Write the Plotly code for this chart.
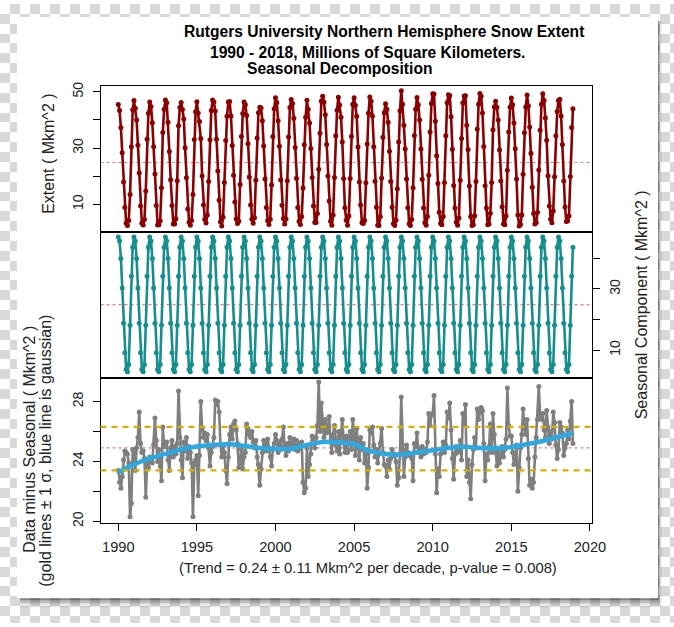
import plotly.graph_objects as go

REF_W, H = 674, 627   # reference picture size (all layout positions are in these pixels)
FIG_W = 689           # page is rendered 15 px wider than the shot and then fitted to 674

# ---------------- data ----------------
years = list(range(1990, 2019))
month_index = list(range(12))

# seasonal component (monthly climatology, Mkm^2), Jan..Dec
seasonal_cycle = [47.0, 45.7, 40.0, 30.3, 18.8, 9.1, 3.6, 2.9, 5.3, 18.1, 34.2, 43.7]

# monthly extent (Mkm^2), one row per year 1990..2018, Jan..Dec
extent_monthly = [
    [45.5, 43.4, 37.3, 28.4, 18.0, 8.9, 3.3, 2.5, 4.3, 13.5, 30.5, 43.6],  # 1990
    [46.9, 44.2, 40.0, 31.0, 21.2, 9.4, 3.3, 2.7, 4.6, 14.8, 33.2, 42.4],  # 1991
    [46.4, 44.8, 39.0, 30.5, 20.8, 9.6, 2.7, 2.8, 4.1, 15.9, 35.6, 43.8],  # 1992
    [47.1, 46.1, 39.2, 28.8, 18.8, 9.6, 3.0, 3.0, 4.9, 18.4, 38.0, 44.4],  # 1993
    [46.2, 43.7, 40.4, 30.1, 19.5, 8.4, 3.7, 2.6, 4.3, 13.5, 33.1, 42.9],  # 1994
    [46.5, 42.5, 39.5, 33.4, 20.1, 9.8, 4.6, 3.4, 6.2, 18.1, 33.0, 43.4],  # 1995
    [47.1, 46.4, 43.2, 33.2, 21.9, 11.5, 3.8, 2.3, 5.4, 17.8, 32.7, 41.3],  # 1996
    [46.4, 46.6, 41.4, 30.9, 20.4, 10.9, 4.8, 3.2, 4.0, 17.1, 34.1, 42.3],  # 1997
    [46.4, 45.4, 41.6, 31.6, 19.7, 9.8, 4.7, 3.3, 5.3, 18.6, 33.6, 42.6],  # 1998
    [44.5, 44.3, 39.7, 30.8, 19.0, 8.9, 4.2, 2.9, 4.7, 16.9, 34.1, 44.0],  # 1999
    [47.9, 46.2, 39.7, 30.7, 18.7, 9.7, 5.0, 3.0, 4.8, 18.4, 34.0, 44.4],  # 2000
    [47.3, 45.9, 40.6, 30.2, 19.3, 8.9, 3.9, 2.9, 5.7, 15.8, 31.2, 41.0],  # 2001
    [47.0, 43.8, 38.9, 29.9, 19.6, 9.4, 3.6, 3.6, 6.8, 22.5, 35.3, 46.7],  # 2002
    [48.4, 46.4, 41.9, 31.3, 20.1, 11.2, 4.0, 2.6, 6.2, 19.6, 34.4, 43.5],  # 2003
    [48.1, 45.3, 41.0, 32.2, 19.2, 8.8, 4.4, 2.6, 5.9, 19.2, 34.1, 45.6],  # 2004
    [47.9, 45.2, 41.3, 30.4, 18.0, 9.8, 3.5, 3.2, 4.3, 17.7, 31.5, 42.4],  # 2005
    [48.2, 46.7, 41.4, 30.5, 18.2, 9.0, 2.6, 2.5, 5.6, 19.4, 33.9, 42.6],  # 2006
    [45.8, 43.8, 39.2, 28.9, 18.1, 9.0, 3.1, 2.5, 4.4, 15.6, 32.2, 43.3],  # 2007
    [50.4, 45.6, 38.1, 29.7, 19.0, 8.8, 3.1, 2.5, 4.6, 15.9, 34.5, 43.8],  # 2008
    [48.0, 45.4, 40.0, 29.7, 18.9, 8.7, 3.5, 2.6, 5.7, 20.4, 35.7, 45.9],  # 2009
    [49.3, 49.2, 39.6, 27.3, 17.4, 7.2, 3.2, 2.8, 5.7, 17.8, 34.4, 46.1],  # 2010
    [49.0, 48.7, 41.2, 29.6, 16.7, 8.7, 3.7, 2.6, 5.2, 18.6, 33.4, 46.0],  # 2011
    [48.5, 48.6, 38.1, 29.5, 16.5, 5.7, 2.5, 2.8, 6.0, 18.1, 36.8, 45.6],  # 2012
    [49.4, 48.4, 42.5, 30.6, 16.6, 8.7, 2.8, 3.0, 6.9, 17.8, 36.5, 44.6],  # 2013
    [46.7, 44.5, 40.0, 29.3, 18.3, 9.2, 3.0, 2.8, 5.9, 22.1, 35.7, 44.5],  # 2014
    [47.8, 45.4, 38.9, 29.8, 19.0, 6.2, 2.3, 2.9, 6.2, 20.7, 35.5, 44.6],  # 2015
    [48.9, 45.0, 37.5, 28.2, 16.1, 6.8, 3.0, 3.6, 7.2, 22.2, 36.4, 45.6],  # 2016
    [49.3, 46.9, 40.7, 32.8, 20.2, 9.4, 4.7, 3.5, 7.7, 19.8, 34.4, 43.0],  # 2017
    [46.9, 47.4, 41.4, 31.3, 18.3, 9.1, 3.9, 4.1, 5.9, 19.9, 37.3, 44.0],  # 2018
]

# data minus seasonal (Mkm^2), one row per year, Jan..Dec
residual_monthly = [
    [23.4, 22.6, 22.2, 23.0, 24.1, 24.7, 24.6, 24.5, 23.9, 20.3, 21.2, 24.8],  # 1990
    [24.8, 23.4, 24.9, 25.6, 27.3, 25.2, 24.6, 24.7, 24.2, 21.6, 23.9, 23.6],  # 1991
    [24.3, 24.0, 23.9, 25.1, 26.9, 25.4, 24.0, 24.8, 23.7, 22.7, 26.3, 25.0],  # 1992
    [25.0, 25.3, 24.1, 23.4, 24.9, 25.4, 24.3, 25.0, 24.5, 25.2, 28.7, 25.6],  # 1993
    [24.1, 22.9, 25.3, 24.7, 25.6, 24.2, 25.0, 24.6, 23.9, 20.3, 23.8, 24.1],  # 1994
    [24.4, 21.7, 24.4, 28.0, 26.2, 25.6, 25.9, 25.4, 25.8, 24.9, 23.7, 24.6],  # 1995
    [25.0, 25.6, 28.1, 27.8, 28.0, 27.3, 25.1, 24.3, 25.0, 24.6, 23.4, 22.5],  # 1996
    [24.3, 25.8, 26.3, 25.5, 26.5, 26.7, 26.1, 25.2, 23.6, 23.9, 24.8, 23.5],  # 1997
    [24.3, 24.6, 26.5, 26.2, 25.8, 25.6, 26.0, 25.3, 24.9, 25.4, 24.3, 23.8],  # 1998
    [22.4, 23.5, 24.6, 25.4, 25.1, 24.7, 25.5, 24.9, 24.3, 23.7, 24.8, 25.2],  # 1999
    [25.8, 25.4, 24.6, 25.3, 24.8, 25.5, 26.3, 25.0, 24.4, 25.2, 24.7, 25.6],  # 2000
    [25.2, 25.1, 25.5, 24.8, 25.4, 24.7, 25.2, 24.9, 25.3, 22.6, 21.9, 22.2],  # 2001
    [24.9, 23.0, 23.8, 24.5, 25.7, 25.2, 24.9, 25.6, 26.4, 29.3, 26.0, 27.9],  # 2002
    [26.3, 25.6, 26.8, 25.9, 26.2, 27.0, 25.3, 24.6, 25.8, 26.4, 25.1, 24.7],  # 2003
    [26.0, 24.5, 25.9, 26.8, 25.3, 24.6, 25.7, 24.6, 25.5, 26.0, 24.8, 26.8],  # 2004
    [25.8, 24.4, 26.2, 25.0, 24.1, 25.6, 24.8, 25.2, 23.9, 24.5, 22.2, 23.6],  # 2005
    [26.1, 25.9, 26.3, 25.1, 24.3, 24.8, 23.9, 24.5, 25.2, 26.2, 24.6, 23.8],  # 2006
    [23.7, 23.0, 24.1, 23.5, 24.2, 24.8, 24.4, 24.5, 24.0, 22.4, 22.9, 24.5],  # 2007
    [28.3, 24.8, 23.0, 24.3, 25.1, 24.6, 24.4, 24.5, 24.2, 22.7, 25.2, 25.0],  # 2008
    [25.9, 24.6, 24.9, 24.3, 25.0, 24.5, 24.8, 24.6, 25.3, 27.2, 26.4, 27.1],  # 2009
    [27.2, 28.4, 24.5, 21.9, 23.5, 23.0, 24.5, 24.8, 25.3, 24.6, 25.1, 27.3],  # 2010
    [26.9, 27.9, 26.1, 24.2, 22.8, 24.5, 25.0, 24.6, 24.8, 25.4, 24.1, 27.2],  # 2011
    [26.4, 27.8, 23.0, 24.1, 22.6, 21.5, 23.8, 24.8, 25.6, 24.9, 27.5, 26.8],  # 2012
    [27.3, 27.6, 27.4, 25.2, 22.7, 24.5, 24.1, 25.0, 26.5, 24.6, 27.2, 25.8],  # 2013
    [24.6, 23.7, 24.9, 23.9, 24.4, 25.0, 24.3, 24.8, 25.5, 28.9, 26.4, 25.7],  # 2014
    [25.7, 24.6, 23.8, 24.4, 25.1, 22.0, 23.6, 24.9, 25.8, 27.5, 26.2, 25.8],  # 2015
    [26.8, 24.2, 22.4, 22.8, 22.2, 22.6, 24.3, 25.6, 26.8, 29.0, 27.1, 26.8],  # 2016
    [27.2, 26.1, 25.6, 27.4, 26.3, 25.2, 26.0, 25.5, 27.3, 26.6, 25.1, 24.2],  # 2017
    [24.8, 26.6, 26.3, 25.9, 24.4, 24.9, 25.2, 26.1, 25.5, 26.7, 28.0, 25.2],  # 2018
]

# gaussian smooth of the residual (read at yearly points)
gauss_t = [1990, 1991, 1992, 1993, 1994, 1995, 1996, 1997, 1998, 1999, 2000,
           2001, 2002, 2003, 2004, 2005, 2006, 2007, 2008, 2009, 2010, 2011,
           2012, 2013, 2014, 2015, 2016, 2017, 2018, 2018.92]
gauss_vals = [23.25, 23.8, 24.2, 24.5, 24.8, 25.0, 25.1, 25.15, 25.05, 24.9, 24.85,
              24.85, 25.1, 25.3, 25.28, 25.15, 24.7, 24.5, 24.45, 24.6, 24.75, 24.9,
              24.98, 24.9, 24.88, 24.96, 25.15, 25.36, 25.65, 25.9]

mean_level = 24.9
sigma_upper = 26.3
sigma_lower = 23.4

x_ticks = [1990, 1995, 2000, 2005, 2010, 2015, 2020]
top_ticks = [10, 20, 30, 40, 50]
top_labels = ["10", "", "30", "", "50"]
mid_ticks = [10, 20, 30, 40]
mid_labels = ["10", "", "30", ""]
bot_ticks = [20, 22, 24, 26, 28]
bot_labels = ["20", "", "24", "", "28"]

title_lines = ["Rutgers University Northern Hemisphere Snow Extent",
               "1990 - 2018, Millions of Square Kilometers.",
               "Seasonal Decomposition"]
trend_text = "(Trend = 0.24 \u00b1 0.11 Mkm^2 per decade, p-value = 0.008)"

# ---------------- series ----------------
t = [y + m / 12 for y in years for m in month_index]
extent = [v for row in extent_monthly for v in row]
seasonal = [seasonal_cycle[m] for y in years for m in month_index]
resid = [v for row in residual_monthly for v in row]

FONT = "Liberation Sans, Arial, Helvetica, sans-serif"
RED = "#8b0000"
TEAL = "#168e8e"
GREY = "#7f7f7f"
BLUE = "#2aa9e2"
GOLD = "#d4b000"
PINK = "#f07a7a"

def px_x(px):
    return px / REF_W

def px_y(py):
    return 1 - py / H

XD = [px_x(100.5), px_x(591.5)]
D1 = [px_y(230.5), px_y(83.3)]
D2 = [px_y(379.0), px_y(230.5)]
D3 = [px_y(525.5), px_y(379.0)]
XR = [1988.87, 2020.1]

fig = go.Figure()

# ---- checkerboard background around the card (drawn first) ----
CARD = (17, 13, 658, 602)
S = 10
xe = sorted(set(list(range(0, REF_W + 1, S)) + [REF_W, CARD[0], CARD[2]]))
ye = sorted(set(list(range(0, H + 1, S)) + [H, CARD[1], CARD[3]]))
z = []
for j in range(len(ye) - 1):
    cy = (ye[j] + ye[j + 1]) / 2
    row = []
    for i in range(len(xe) - 1):
        cx = (xe[i] + xe[i + 1]) / 2
        if CARD[0] < cx < CARD[2] and CARD[1] < cy < CARD[3]:
            row.append(None)
        else:
            row.append((int(cx // S) + int(cy // S)) % 2)
    z.append(row)
fig.add_trace(go.Heatmap(x=xe, y=ye, z=z, xaxis="x4", yaxis="y4", zmin=0, zmax=1,
                         colorscale=[[0, "#ffffff"], [1, "#d9d9d9"]],
                         showscale=False, hoverinfo="skip"))

fig.add_trace(go.Scatter(x=t, y=extent, mode="lines+markers", xaxis="x", yaxis="y",
                         line=dict(color=RED, width=2.6),
                         marker=dict(color=RED, size=5), hoverinfo="skip"))
fig.add_trace(go.Scatter(x=t, y=seasonal, mode="lines+markers", xaxis="x2", yaxis="y2",
                         line=dict(color=TEAL, width=2.6),
                         marker=dict(color=TEAL, size=5), hoverinfo="skip"))
fig.add_trace(go.Scatter(x=t, y=resid, mode="lines+markers", xaxis="x3", yaxis="y3",
                         line=dict(color=GREY, width=2.6),
                         marker=dict(color=GREY, size=5), hoverinfo="skip"))
fig.add_trace(go.Scatter(x=gauss_t, y=gauss_vals, mode="lines", xaxis="x3", yaxis="y3",
                         line=dict(color=BLUE, width=4.5, shape="spline"),
                         hoverinfo="skip"))

axis_common = dict(showline=True, mirror=True, linecolor="black", linewidth=1,
                   showgrid=False, zeroline=False)
tickfont = dict(family=FONT, size=14, color="#222222")
xtickfont = dict(family=FONT, size=14.6, color="#222222")

layout = dict(
    width=FIG_W, height=H, autosize=False, margin=dict(l=0, r=0, t=0, b=0),
    paper_bgcolor="white", plot_bgcolor="rgba(0,0,0,0)", showlegend=False,
    xaxis4=dict(domain=[0, 1], range=[0, REF_W], anchor="y4", visible=False, fixedrange=True),
    yaxis4=dict(domain=[0, 1], range=[H, 0], anchor="x4", visible=False, fixedrange=True),
    xaxis=dict(domain=XD, range=XR, anchor="y", showticklabels=False, ticks="", **axis_common),
    yaxis=dict(domain=D1, range=[0.35, 52.0], anchor="x", tickvals=top_ticks, ticktext=top_labels,
               tickangle=-90, ticks="outside", ticklen=7, tickcolor="black", tickfont=tickfont,
               ticklabelstandoff=4, **axis_common),
    xaxis2=dict(domain=XD, range=XR, anchor="y2", showticklabels=False, ticks="", **axis_common),
    yaxis2=dict(domain=D2, range=[0.8, 48.8], anchor="x2", side="right", tickvals=mid_ticks,
                ticktext=mid_labels, tickangle=-90, ticks="outside", ticklen=7, tickcolor="black",
                tickfont=tickfont, ticklabelstandoff=4, **axis_common),
    xaxis3=dict(domain=XD, range=XR, anchor="y3", tickvals=x_ticks, ticks="outside", ticklen=7,
                tickcolor="black", tickfont=xtickfont, ticklabelstandoff=4, **axis_common),
    yaxis3=dict(domain=D3, range=[19.9, 29.56], anchor="x3", tickvals=bot_ticks, ticktext=bot_labels,
                tickangle=-90, ticks="outside", ticklen=7, tickcolor="black", tickfont=tickfont,
                ticklabelstandoff=4, **axis_common),
)
fig.update_layout(**layout)

shapes = []
# mean reference lines (dotted pink)
for xr, yr in (("x domain", "y"), ("x2 domain", "y2"), ("x3 domain", "y3")):
    shapes.append(dict(type="line", xref=xr, yref=yr, x0=0, x1=1, y0=mean_level, y1=mean_level,
                       line=dict(color=PINK, width=1.2, dash="dot"), layer="below"))
# +/- 1 sigma gold lines
for lev in (sigma_upper, sigma_lower):
    shapes.append(dict(type="line", xref="x3 domain", yref="y3", x0=0, x1=1, y0=lev, y1=lev,
                       line=dict(color=GOLD, width=2.2, dash="6px,5px"), layer="above"))
# card drop shadow
for op, d in [(0.30, 2), (0.18, 5), (0.09, 9)]:
    shapes.append(dict(type="rect", xref="paper", yref="paper",
                       x0=px_x(CARD[0] + 3), x1=px_x(CARD[2] + d * 0.4),
                       y0=px_y(CARD[3] + d), y1=px_y(CARD[3]),
                       line=dict(width=0), fillcolor=f"rgba(0,0,0,{op})", layer="above"))
    shapes.append(dict(type="rect", xref="paper", yref="paper",
                       x0=px_x(CARD[2]), x1=px_x(CARD[2] + d * 0.4),
                       y0=px_y(CARD[3]), y1=px_y(CARD[1] + 4),
                       line=dict(width=0), fillcolor=f"rgba(0,0,0,{op})", layer="above"))
fig.update_layout(shapes=shapes)

ann = []
title_pos = [(383.7, 28.3), (367.5, 49.5), (339.7, 65.0)]
for txt, (ax, ay) in zip(title_lines, title_pos):
    ann.append(dict(text=txt, x=px_x(ax), y=px_y(ay), xref="paper", yref="paper",
                    xanchor="center", yanchor="middle", showarrow=False,
                    font=dict(family=FONT, size=15.6, color="black", weight="bold")))
axis_titles = [
    ("Extent ( Mkm^2 )", 48.3, 151.5),
    ("Data minus Seasonal ( Mkm^2 )", 30.0, 441.5),
    ("(gold lines \u00b1 1 \u03c3, blue line is gaussian)", 45.5, 453.0),
    ("Seasonal Component ( Mkm^2 )", 641.7, 304.5),
]
for txt, ax, ay in axis_titles:
    ann.append(dict(text=txt, x=px_x(ax), y=px_y(ay), xref="paper", yref="paper",
                    xanchor="center", yanchor="middle", showarrow=False, textangle=-90,
                    font=dict(family=FONT, size=16, color="#222222")))
ann.append(dict(text=trend_text, x=px_x(368.0), y=px_y(571.7), xref="paper", yref="paper",
                xanchor="center", yanchor="middle", showarrow=False,
                font=dict(family=FONT, size=14.8, color="#222222")))
fig.update_layout(annotations=ann)

page_css = (
    "document.documentElement.style.overflow='hidden';"
    "document.body.style.margin='0';document.body.style.overflow='hidden';"
)
fig.write_html("out.html",
               config={"responsive": False, "displayModeBar": False, "staticPlot": True},
               post_script=page_css)
